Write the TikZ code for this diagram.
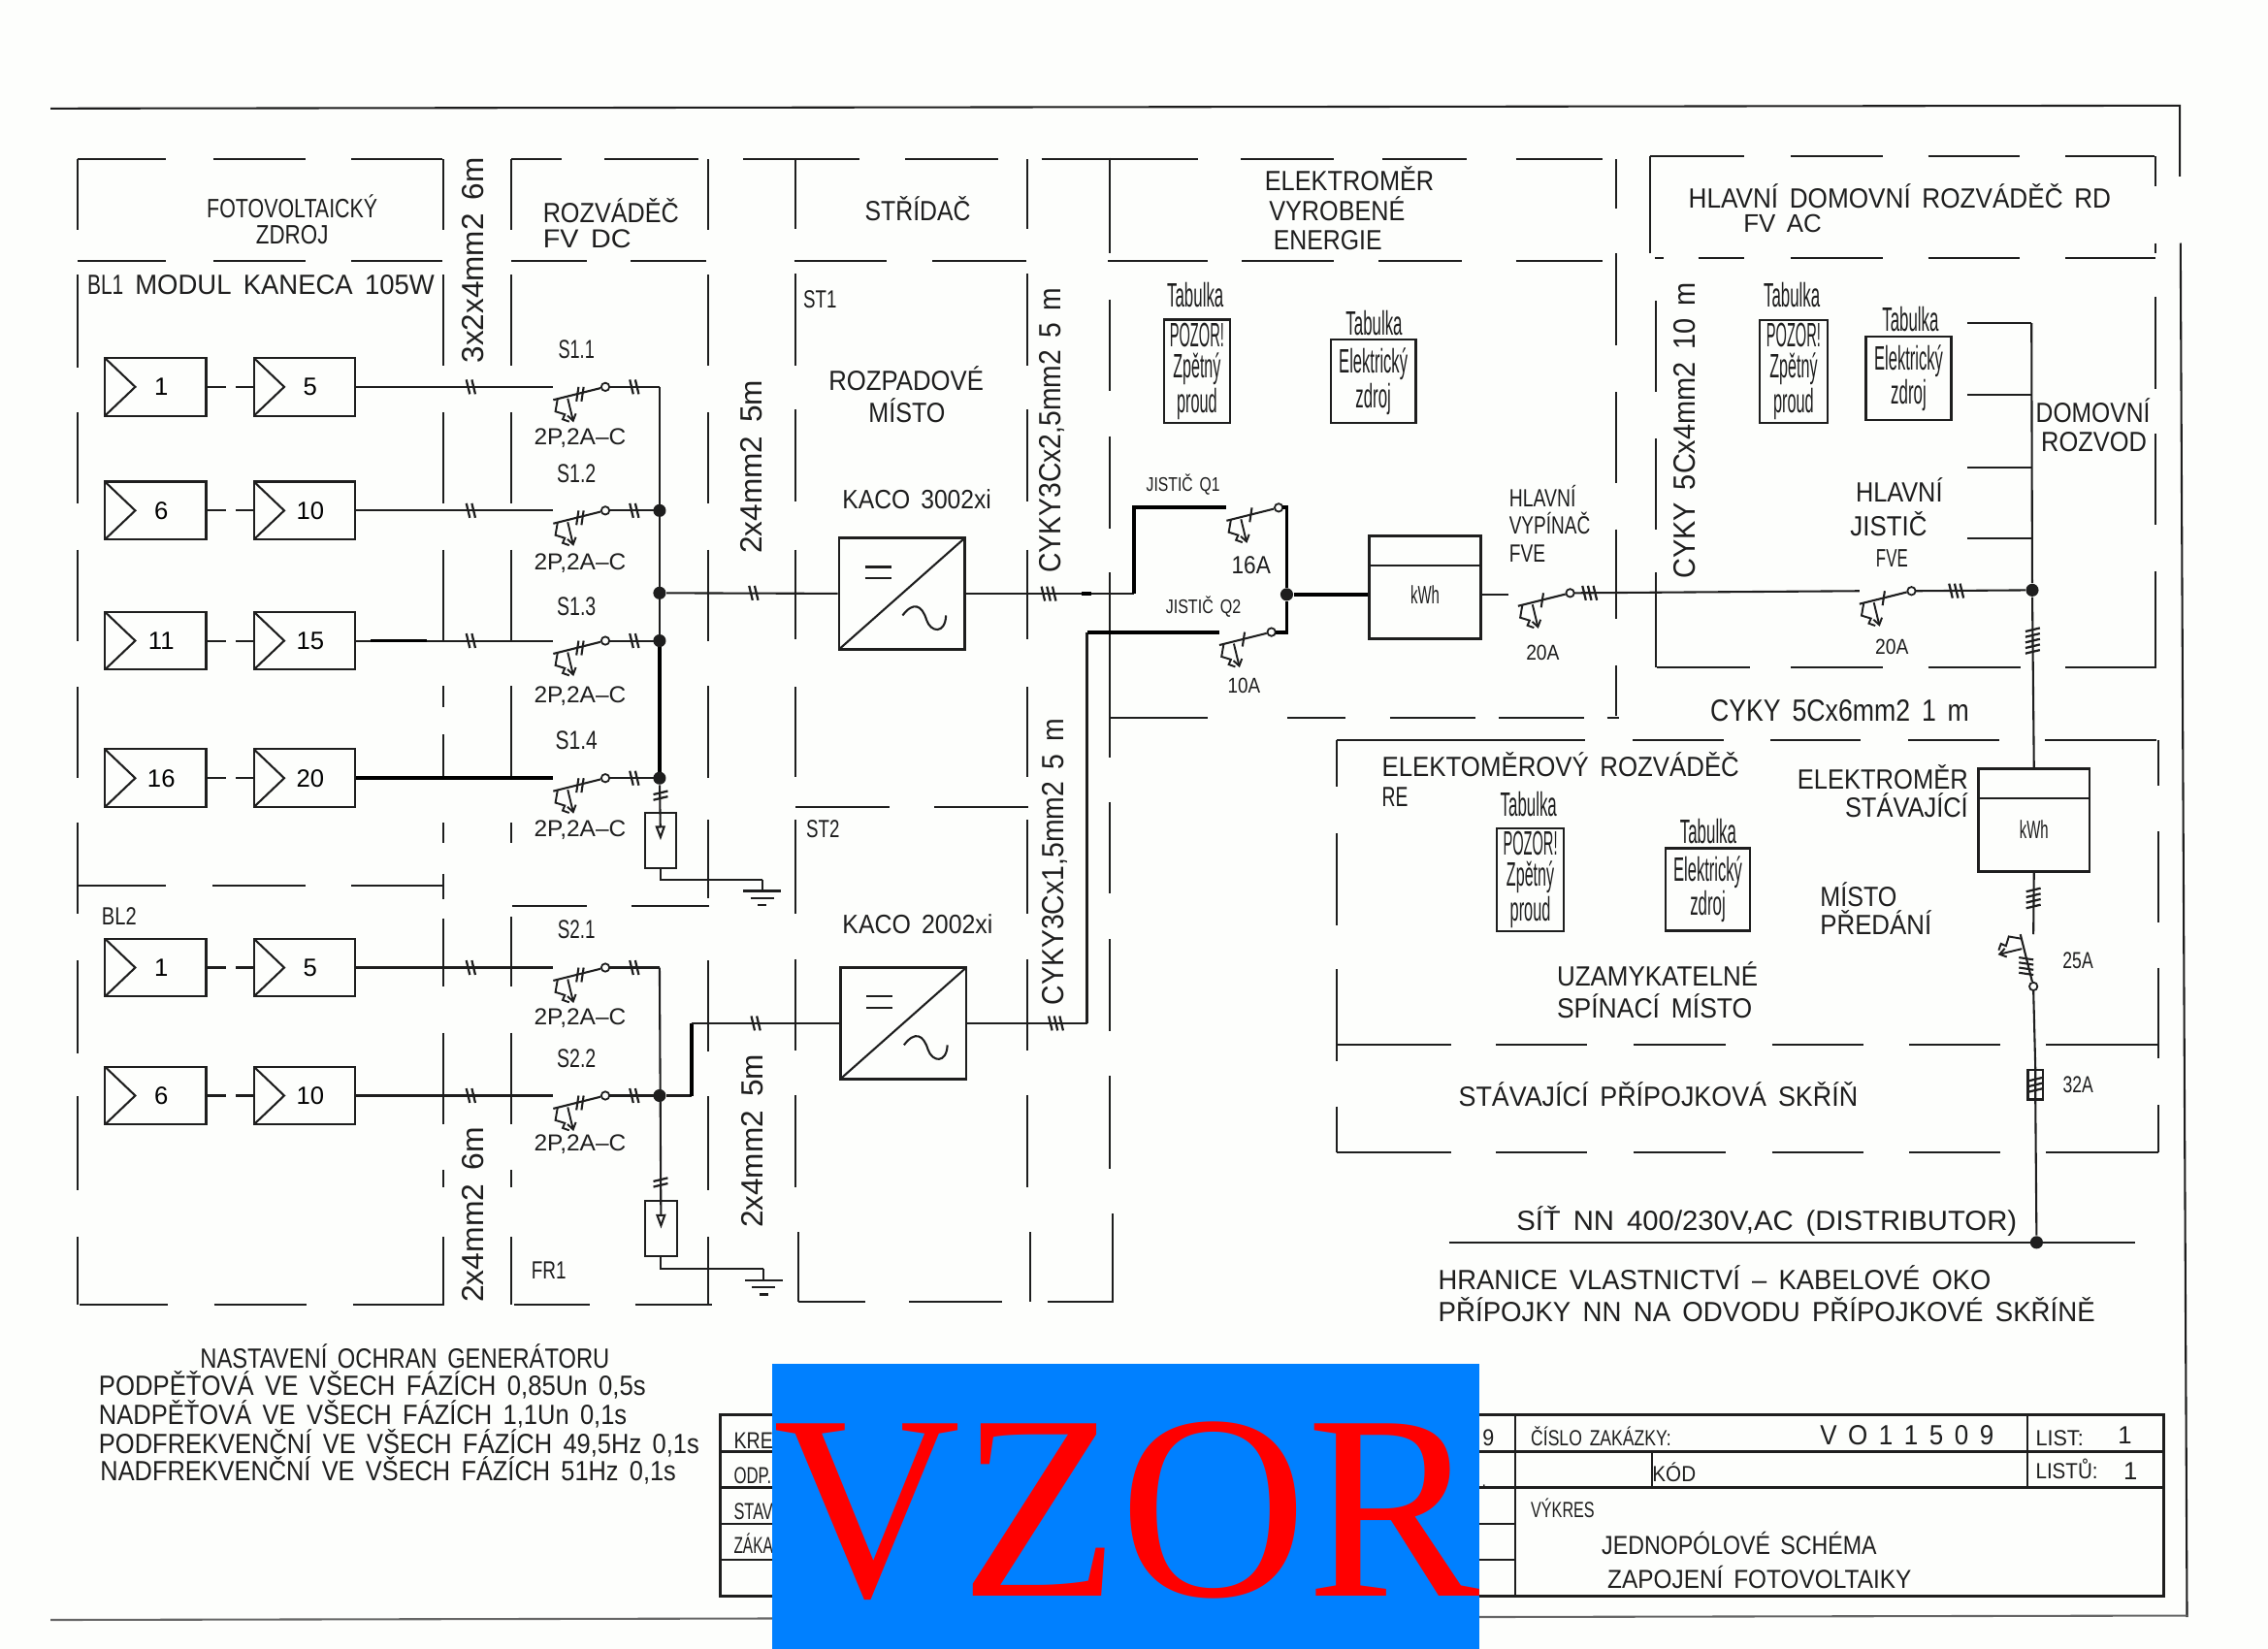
\documentclass[tikz,border=0pt]{standalone}
\usepackage{fontspec}
\usepackage{graphicx}
\usetikzlibrary{arrows.meta,calc}
\newfontfamily\cadfont[WordSpace=1.6]{Liberation Sans}
\newfontfamily\vzorfont{Liberation Serif}
\definecolor{kresba}{HTML}{1E1E1E}
\definecolor{papir}{HTML}{FDFEFC}
\definecolor{modra}{HTML}{0080FF}
\newcommand{\tx}[2]{\resizebox{\dimexpr#1pt/2\relax}{\height}{#2}}
\newcommand{\svisle}[2]{\foreach \a/\b in {#2}{\draw[ram] (#1,\a) -- (#1,\b);}}
\newcommand{\vodorovne}[2]{\foreach \a/\b in {#2}{\draw[ram] (\a,#1) -- (\b,#1);}}
\tikzset{
    wire/.style={draw=kresba,line width=.7pt},
    tlusty/.style={draw=black,line width=1.3pt},
    ram/.style={draw=kresba,line width=.7pt},
    spoj/.style={wire,dash pattern=on 6.5pt off 3.5pt},
    lab/.style={font=\cadfont\fontsize{#1}{#1}\selectfont,text=kresba,inner sep=0pt,text height={.716*#1pt},text depth=0pt},
    lab/.default=9.6,
    modul/.style={draw=kresba,line width=.7pt,minimum width=35pt,minimum height=20pt,inner sep=0pt,
        font=\cadfont\fontsize{8.6}{8.6}\selectfont,execute at begin node={\hspace{4pt}},
        path picture={\draw[wire] (path picture bounding box.north west)
            -- ([xshift=10.5pt]path picture bounding box.west) -- (path picture bounding box.south west);}},
    stridac/.style={draw=kresba,line width=.8pt,minimum width=43.5pt,minimum height=38.5pt,inner sep=0pt,
        path picture={
            \draw[wire] (path picture bounding box.south west) -- (path picture bounding box.north east);
            \begin{scope}[shift={(path picture bounding box.center)}]
                \draw[wire] (-25.5,-18.5) -- (-7.5,-18.5);
                \draw[wire] (-25.5,-11) -- (-7.5,-11);
                \draw[wire] (0.5,15) .. controls (8,5) and (14,8) .. (17,18) .. controls (20,27) and (30,28) .. (30.5,15);
            \end{scope}}},
    tabbox/.style={draw=kresba,line width=.7pt,inner sep=0pt,align=center,text=kresba,
        font=\cadfont\fontsize{11.7}{10.75}\selectfont},
    elektromer/.style={draw=kresba,line width=.8pt,minimum width=38.5pt,minimum height=35.5pt,inner sep=0pt,
        text=kresba,font=\cadfont\fontsize{8.7}{8.7}\selectfont,
        path picture={\draw[wire] ([yshift=-10.3pt]path picture bounding box.north west)
            -- ([yshift=-10.3pt]path picture bounding box.north east);}},
    svodic/.style={draw=kresba,line width=.7pt,fill=papir,minimum width=11pt,minimum height=19pt,inner sep=0pt},
    tecka/.style={circle,fill=kresba,inner sep=0pt,minimum size=4.4pt},
    kolecko/.style={circle,draw=kresba,line width=.6pt,fill=papir,inner sep=0pt,minimum size=2.8pt},
    pics/carky/.style={code={
        \foreach \i in {1,...,#1}{\draw[wire,line width=.75pt] ({(\i-(#1+1)/2)*3.8-1.2},-5) -- +(2.4,10);}
    }},
    pics/jistic/.style={code={
        \coordinate (-in) at (0,0);
        \coordinate (-out) at (38.7,0);
        \node[kolecko] (-k) at (36,0) {};
        \draw[wire] (0,9) -- (-k);
        \draw[wire,line width=.65pt] (3,8.3) -- (1.5,17) -- (8,19) -- (6.5,22.4) -- (11,24);
        \draw[wire,line width=.65pt,-{Straight Barb[length=2.2pt,width=3pt]}] (10,8) -- (14,24.5);
        \foreach \i in {1,...,#1}{\draw[wire,line width=.7pt] ({14+3.5*\i},0) -- +(-1.5,10);}
    }},
    pics/zem/.style={code={
        \draw[wire] (0,0) -- (0,7.5);
        \draw[wire] (-13,7.5) -- (13,7.5);
        \draw[wire] (-8,12.5) -- (8,12.5);
        \draw[wire] (-3,17.5) -- (3,17.5);
    }},
}
\begin{document}
\begin{tikzpicture}[x=.5pt,y=-.5pt]
    \useasboundingbox (0,0) rectangle (1568,1140);
    \fill[papir] (0,0) rectangle (1568,1140);
    % vykresovy ram
    \draw[ram] (35,75) -- (1507,73) -- (1507,122);
    \draw[ram] (1507.5,168) -- (1512,1118);
    \draw[ram,draw=black!60] (1512,1117) -- (35,1120);
    % panely FV zdroj a rozvadec DC
    \vodorovne{110}{53.5/115,147.5/211,243/306,353.5/388,418/483,514/594,626/690,720/828,858/922,956/1014,1048/1108}
    \vodorovne{180.5}{53.5/115,147.5/211,243/306,353.5/406,436/488.5,549/613,644.6/709.6,766/835,858.5/922,953/1011,1048/1108}
    \vodorovne{612}{54/115,147/211,243/306}
    \vodorovne{902}{55/116,148/212,244/307,355.5/408,439/492.5}
    \vodorovne{900}{551.7/598,628.6/693,724/770}
    \vodorovne{626.5}{354/406,436.5/490}
    \vodorovne{558}{550/615,646/711}
    \svisle{53.5}{110/159,190/254,285/348,380/443,475/538,569/632,664/728,758/823,855/902}
    \svisle{306.5}{110/159,190/253,285/348,380/443,474/489,508/538,569/583,604/622,635/682,714/777,809/821,855/902}
    \svisle{353.5}{110/159,190/253,285/348,380/443,474/538,569/583,634/682,714/777,809/821,855/902}
    \svisle{489.5}{110/159,190/253,285/348,380/443,474/538,567/621,664/727,758/823,855/902}
    \svisle{550}{110/158,189/253,283/347,380/442,475/537,567/632,663/726,757/821}
    \svisle{551.7}{852/900}
    \svisle{710}{110/158,189/253,283/347,380/442,475/537,567/632,663/726,757/821}
    \svisle{712}{852/900}
    % panel elektromer vyrobene energie
    \svisle{767}{109/175,207/270,301.5/365.6,396/523.6,554.4/618,649.5/713,744/808}
    \svisle{769.5}{839/900}
    \svisle{1117.5}{110/144,175/239,271/334,366/428,460/495}
    \vodorovne{496}{768/835,890/930,961/1020,1036/1095,1111/1119}
    % panel hlavni domovni rozvadec
    \vodorovne{108}{1140.6/1205.6,1238/1302,1333/1396.6,1428/1489.6}
    \vodorovne{178.5}{1144/1150,1174/1206,1238/1302,1333/1396,1428/1490}
    \vodorovne{461.6}{1145.5/1210,1238/1302,1333/1397,1428/1491}
    \svisle{1140.6}{108/175}
    \svisle{1144.5}{208/271,303/366,396/461.6}
    \svisle{1490}{108/129,168/175,205/268.6,300/363,394.7/461.6}
    % panel elektromerovy rozvadec a prípojkova skrin
    \vodorovne{512}{924/1096,1129/1192,1224/1286,1319/1382,1413.7/1491}
    \vodorovne{722.5}{924/1003,1034/1097,1129.4/1193,1225/1288,1320/1383,1414.6/1492}
    \vodorovne{796.8}{924/1003,1034/1097,1129.4/1193,1225/1288,1320/1383,1414.6/1492}
    \svisle{924}{512/544,576/639.5,670/733.7,765/797}
    \svisle{1492}{512/543,575/638,669/732,764/797}
    % vetve panelu
    \foreach \r/\p/\q/\s/\w/\y/\ys/\yd in {11/1/5/S1.1/25/267.5/241.5/302,12/6/10/S1.2/27/353/327/388,13/11/15/S1.3/27/443/419/480,
        14/16/20/S1.4/29/538/511.5/573,21/1/5/S2.1/26/669/642.5/703,22/6/10/S2.2/27/757.5/731.5/790}{
        \node[modul] (mL\r) at (107.5,\y) {\p};
        \node[modul] (mR\r) at (210.5,\y) {\q};
        \draw[spoj] (mL\r) -- (mR\r);
        \pic (s\r) at (382.5,\y) {jistic=2};
        \draw[wire] (mR\r) -- (s\r-in);
        \ifnum\r=14\else\pic at (325.5,\y) {carky=2};\fi
        \pic at (438.5,\y) {carky=2};
        \coordinate (b\r) at (456,\y);
        \draw[wire] (s\r-out) -- (b\r);
        \node[lab=9] (ts\r) at (398.5,\ys) {\tx{\w}{\s}};
        \node[lab=8] (td\r) at (401,\yd) {\tx{63.6}{2P,2A–C}};
    }
    \draw[tlusty] (mR14) -- (s14-in);
    \coordinate (h3a) at (256.5,443);
    \coordinate (h3b) at (295,443);
    \draw[tlusty] (h3a) -- (h3b);
    % pojeni pole BL1
    \coordinate (bst) at (456,410);
    \draw[wire] (b11) -- (b13);
    \draw[tlusty] (b13) -- (b14);
    \node[tecka] (d12) at (b12) {};
    \node[tecka] (dst) at (bst) {};
    \node[tecka] (d13) at (b13) {};
    \node[tecka] (d14) at (b14) {};
    \node[stridac] (st1) at (623.5,410.5) {};
    \draw[wire] (dst) -- (st1);
    \pic at (521,410) {carky=2};
    \node[svodic] (spd1) at (456.7,581) {};
    \draw[wire,-{Triangle[open,length=5pt,width=3.4pt]}] (d14) -- (spd1.center);
    \pic[rotate=90] at (456.7,550) {carky=2};
    \coordinate (g1) at (527,608.5);
    \draw[wire] (spd1.south) |- (g1);
    \pic at (g1) {zem};
    % pojeni pole BL2
    \node[tecka] (d22) at (b22) {};
    \node[stridac] (st2) at (624.5,707.5) {};
    \coordinate (k1) at (478,757.5);
    \coordinate (k2) at (478,707.5);
    \draw[wire] (d22) -- (k1);
    \draw[tlusty] (k1) -- (k2);
    \draw[wire] (k2) -- (st2);
    \pic at (522.5,707.5) {carky=2};
    \node[svodic] (spd2) at (457,849.5) {};
    \draw[wire,-{Triangle[open,length=5pt,width=3.4pt]}] (b21) -- (spd2.center);
    \pic[rotate=90] at (456.7,817.5) {carky=2};
    \coordinate (g2) at (528,877.5);
    \draw[wire] (spd2.south) |- (g2);
    \pic at (g2) {zem};
    % strana AC, jistice Q1 a Q2
    \coordinate (a1) at (783.7,410.5);
    \coordinate (a2) at (783.7,351);
    \draw[wire] (st1) -- (a1);
    \pic at (725,410.5) {carky=3};
    \coordinate (a5) at (748,410.5);
    \coordinate (a6) at (754.5,410.5);
    \draw[tlusty] (a5) -- (a6);
    \pic (q1) at (848,351) {jistic=1};
    \draw[tlusty] (a1) -- (a2) -- (q1-in);
    \coordinate (a3) at (751.5,707.5);
    \coordinate (a4) at (751.5,437);
    \draw[wire] (st2) -- (a3);
    \pic at (730,707.5) {carky=3};
    \pic (q2) at (843,437) {jistic=1};
    \draw[wire,line width=1pt] (a3) -- (a4);
    \draw[tlusty] (a4) -- (q2-in);
    \coordinate (qb) at (889.6,411);
    \node[tecka] (dq) at (qb) {};
    \draw[tlusty] (q1-out) -| (dq);
    \draw[tlusty] (q2-out) -| (dq);
    \node[elektromer] (em1) at (985.2,406) {\raisebox{-5.75pt}[6pt][6pt]{\tx{20}{kWh}}};
    \draw[tlusty] (dq) -- (dq -| em1.west);
    % hlavni vypinac a hlavni jistic
    \coordinate (v1) at (1043,411);
    \draw[wire] (v1 -| em1.east) -- (v1);
    \pic (vyp) at (1049.5,410) {jistic=1};
    \pic at (1099,410) {carky=3};
    \pic (hj) at (1285.5,408.6) {jistic=1};
    \draw[wire] (vyp-out) -- (hj-in);
    \node[tecka] (dd) at (1405,408) {};
    \draw[wire] (hj-out) -- (dd);
    \pic at (1352.5,408.5) {carky=3};
    % domovni rozvod a pripojka
    \coordinate (dtop) at (1404.5,223.4);
    \draw[wire] (dtop) -- (dd);
    \foreach \i/\y in {a/223.4,b/273,c/323.3,d/372}{
        \coordinate (ro\i) at (1360,\y);
        \draw[wire] (ro\i) -- (1404.5,\y);
    }
    \node[elektromer] (em2) at (1406.2,567) {\raisebox{-6.25pt}[6pt][6pt]{\tx{20}{kWh}}};
    \draw[wire] (dd) -- (em2.north);
    \pic[rotate=90] at (1405.3,443) {carky=5};
    \pic (j25) [rotate=-90] at (1405.8,646) {jistic=4};
    \draw[wire] (em2.south) -- (j25-in);
    \pic[rotate=90] at (1405.8,621) {carky=4};
    \node[draw=kresba,line width=.7pt,minimum width=5.2pt,minimum height=10.2pt,inner sep=0pt] (f32) at (1407.2,750) {};
    \draw[wire] (j25-out) -- (f32.north) -- (f32.south);
    \pic[rotate=90] at (1407.2,750) {carky=3};
    \node[tecka] (dsit) at (1408,859) {};
    \draw[wire] (f32.south) -- (dsit);
    \coordinate (sa) at (1001.7,859);
    \coordinate (sb) at (1476,859);
    \draw[wire,line width=.9pt] (sa) -- (sb);
    % tabulky
    \node[lab=11.7] (tb1) at (826.4,204) {\tx{39}{Tabulka}};
    \node[lab=11.7] (tb2) at (950,223) {\tx{39}{Tabulka}};
    \node[lab=11.7] (tb3) at (1238.8,204) {\tx{39}{Tabulka}};
    \node[lab=11.7] (tb4) at (1320.8,220.8) {\tx{39}{Tabulka}};
    \node[lab=11.7] (tb5) at (1056.8,556) {\tx{39}{Tabulka}};
    \node[lab=11.7] (tb6) at (1181,574.5) {\tx{39}{Tabulka}};
    \node[tabbox,minimum width=23pt,minimum height=35.7pt] (poz1) at (827.5,256.7) {\tx{37.6}{POZOR!}\\\tx{33}{Zpětný}\\\tx{28}{proud}};
    \node[tabbox,minimum width=23.4pt,minimum height=35.5pt] (poz2) at (1240,256.9) {\tx{37.6}{POZOR!}\\\tx{33}{Zpětný}\\\tx{28}{proud}};
    \node[tabbox,minimum width=23pt,minimum height=35.5pt] (poz3) at (1058,608.2) {\tx{37.6}{POZOR!}\\\tx{33}{Zpětný}\\\tx{28}{proud}};
    \node[tabbox,minimum width=29.4pt,minimum height=28.7pt] (ele1) at (949.4,263.7) {\tx{47.5}{Elektrický}\\\tx{24.5}{zdroj}};
    \node[tabbox,minimum width=29.5pt,minimum height=28.8pt] (ele2) at (1319.5,261.5) {\tx{47.5}{Elektrický}\\\tx{24.5}{zdroj}};
    \node[tabbox,minimum width=29.3pt,minimum height=28.5pt] (ele3) at (1180.7,615) {\tx{47.5}{Elektrický}\\\tx{24.5}{zdroj}};
    % popisy panelu
    \node[lab=9.2] (tFv) at (202,144) {\tx{118}{FOTOVOLTAICKÝ}};
    \node[lab=9.2] (tZd) at (202,162) {\tx{50}{ZDROJ}};
    \node[lab,anchor=west] (tRo) at (375,147) {\tx{94}{ROZVÁDĚČ}};
    \node[lab=9,anchor=west] (tFd) at (375,165) {\tx{61}{FV DC}};
    \node[lab] (tSt) at (634.5,146) {\tx{73}{STŘÍDAČ}};
    \node[lab,anchor=west] (tEl) at (874,125) {\tx{117}{ELEKTROMĚR}};
    \node[lab,anchor=west] (tVy) at (877,146) {\tx{94}{VYROBENÉ}};
    \node[lab,anchor=west] (tEn) at (880,166) {\tx{75}{ENERGIE}};
    \node[lab,anchor=west] (tHd) at (1167,137) {\tx{292}{HLAVNÍ DOMOVNÍ ROZVÁDĚČ RD}};
    \node[lab=8.8,anchor=west] (tFa) at (1205,154) {\tx{54}{FV AC}};
    \node[lab,anchor=west] (tB1) at (60,197) {\tx{25}{BL1}};
    \node[lab,anchor=west] (tMo) at (93,197) {\tx{207}{MODUL KANECA 105W}};
    \node[lab=8.6,anchor=west] (tB2) at (70,633) {\tx{24}{BL2}};
    \node[lab=8.6,anchor=west] (tFr) at (367,878) {\tx{24}{FR1}};
    \node[lab=8.6,anchor=west] (tS1) at (555,207) {\tx{23}{ST1}};
    \node[lab=8.6,anchor=west] (tS2) at (557,573) {\tx{23}{ST2}};
    \node[lab] (tRm) at (626.5,263) {\tx{107}{ROZPADOVÉ}};
    \node[lab] (tMi) at (627,285) {\tx{53}{MÍSTO}};
    \node[lab=9.2,anchor=west] (tK1) at (582,345) {\tx{103}{KACO 3002xi}};
    \node[lab=9.2,anchor=west] (tK2) at (582,639) {\tx{104}{KACO 2002xi}};
    % kabely
    \node[lab=10.6,rotate=90] (tC1) at (327,180) {\tx{142}{3x2x4mm2 6m}};
    \node[lab=10.6,rotate=90] (tC2) at (519,322.7) {\tx{120}{2x4mm2 5m}};
    \node[lab=10.6,rotate=90] (tC3) at (327,840) {\tx{121}{2x4mm2 6m}};
    \node[lab=10.6,rotate=90] (tC4) at (520,789) {\tx{120}{2x4mm2 5m}};
    \node[lab=10.6,rotate=90] (tC5) at (726,297.5) {\tx{197}{CYKY3Cx2,5mm2 5 m}};
    \node[lab=10.6,rotate=90] (tC6) at (727.6,596) {\tx{198}{CYKY3Cx1,5mm2 5 m}};
    \node[lab=10.6,rotate=90] (tC7) at (1164.6,297.7) {\tx{205}{CYKY 5Cx4mm2 10 m}};
    \node[lab=10.6,anchor=west] (tC8) at (1182,491) {\tx{179}{CYKY 5Cx6mm2 1 m}};
    % jistice
    \node[lab=6.8] (tQ1) at (818,335) {\tx{51}{JISTIČ Q1}};
    \node[lab=6.8] (tQ2) at (832,419) {\tx{52}{JISTIČ Q2}};
    \node[lab=8.6] (t16) at (865,390.5) {\tx{27}{16A}};
    \node[lab=7.4] (t10) at (860,474) {\tx{22.5}{10A}};
    \node[lab=8.6,anchor=west] (tHv) at (1043,344.3) {\tx{46}{HLAVNÍ}};
    \node[lab=8.6,anchor=west] (tVp) at (1043,363.3) {\tx{56}{VYPÍNAČ}};
    \node[lab=8.6,anchor=west] (tFv1) at (1043,382.8) {\tx{25}{FVE}};
    \node[lab=7.4] (t20a) at (1066.6,451) {\tx{23}{20A}};
    \node[lab=7.4] (t20b) at (1308,447) {\tx{23}{20A}};
    \node[lab] (tHj) at (1313,340.4) {\tx{60}{HLAVNÍ}};
    \node[lab] (tJi) at (1305.7,363.6) {\tx{53}{JISTIČ}};
    \node[lab=8.7] (tFv2) at (1308,386) {\tx{22}{FVE}};
    \node[lab] (tDo) at (1447,285.3) {\tx{79}{DOMOVNÍ}};
    \node[lab] (tRz) at (1447.7,305.6) {\tx{73}{ROZVOD}};
    \node[lab,anchor=west] (tEm) at (955,530) {\tx{247}{ELEKTOMĚROVÝ ROZVÁDĚČ}};
    \node[lab,anchor=west] (tRe) at (955,551) {\tx{18}{RE}};
    \node[lab,anchor=east] (tEs) at (1361,539) {\tx{118}{ELEKTROMĚR}};
    \node[lab,anchor=east] (tSv) at (1361,558) {\tx{85}{STÁVAJÍCÍ}};
    \node[lab,anchor=west] (tMp) at (1258,620) {\tx{53}{MÍSTO}};
    \node[lab,anchor=west] (tPr) at (1258,639) {\tx{77}{PŘEDÁNÍ}};
    \node[lab,anchor=west] (tUz) at (1076,675) {\tx{139}{UZAMYKATELNÉ}};
    \node[lab,anchor=west] (tSp) at (1076,697) {\tx{135}{SPÍNACÍ MÍSTO}};
    \node[lab,anchor=west] (tSk) at (1008,758) {\tx{276}{STÁVAJÍCÍ PŘÍPOJKOVÁ SKŘÍŇ}};
    \node[lab=8] (t25) at (1436.6,664) {\tx{21}{25A}};
    \node[lab=8] (t32) at (1436.7,750) {\tx{21}{32A}};
    \node[lab,anchor=west] (tSi) at (1048,844) {\tx{346}{SÍŤ NN 400/230V,AC (DISTRIBUTOR)}};
    \node[lab,anchor=west] (tHr) at (994,885) {\tx{382}{HRANICE VLASTNICTVÍ – KABELOVÉ OKO}};
    \node[lab,anchor=west] (tPj) at (994,907) {\tx{454}{PŘÍPOJKY NN NA ODVODU PŘÍPOJKOVÉ SKŘÍNĚ}};
    % nastaveni ochran
    \node[lab,anchor=west] (tN0) at (138,939) {\tx{283}{NASTAVENÍ OCHRAN GENERÁTORU}};
    \node[lab,anchor=west] (tN1) at (68,958) {\tx{378}{PODPĚŤOVÁ VE VŠECH FÁZÍCH 0,85Un 0,5s}};
    \node[lab,anchor=west] (tN2) at (68,978) {\tx{365}{NADPĚŤOVÁ VE VŠECH FÁZÍCH 1,1Un 0,1s}};
    \node[lab,anchor=west] (tN3) at (68,998) {\tx{415}{PODFREKVENČNÍ VE VŠECH FÁZÍCH 49,5Hz 0,1s}};
    \node[lab,anchor=west] (tN4) at (69,1017) {\tx{398}{NADFREKVENČNÍ VE VŠECH FÁZÍCH 51Hz 0,1s}};
    % popisove pole
    \draw[wire,line width=.9pt] (498,978) rectangle (1496,1103.7);
    \draw[wire,line width=.9pt] (498,1003.4) -- (1496,1003.4);
    \draw[wire,line width=.9pt] (498,1028.4) -- (1496,1028.4);
    \draw[wire] (498,1053.6) -- (1047.6,1053.6);
    \draw[wire] (498,1078.7) -- (1047.6,1078.7);
    \draw[wire] (1047.6,978) -- (1047.6,1103.7);
    \draw[wire] (1142.3,1003.4) -- (1142.3,1028.4);
    \draw[wire] (1401.6,978) -- (1401.6,1028.4);
    \node[lab=8,anchor=west] (tKr) at (507,996) {\tx{27}{KRE}};
    \node[lab=8,anchor=west] (tOd) at (507,1020) {\tx{26}{ODP.}};
    \node[lab=8,anchor=west] (tSa) at (507,1045) {\tx{27}{STAV}};
    \node[lab=8,anchor=west] (tZa) at (507,1068) {\tx{27}{ZÁKA}};
    \node[lab=8] (t9) at (1029,994) {\tx{8}{9}};
    \node[lab=8] (tTe) at (1026,1023) {\tx{3}{.}};
    \node[lab=7.6,anchor=west] (tCz) at (1058,994) {\tx{97}{ČÍSLO ZAKÁZKY:}};
    \node[lab=9.6,anchor=west] (tVo) at (1258,992) {\tx{120}{V O 1 1 5 0 9}};
    \node[lab=7.6,anchor=west] (tLi) at (1407,994) {\tx{33}{LIST:}};
    \node[lab=8.6] (tL1) at (1469,992) {1};
    \node[lab=7.6,anchor=west] (tKo) at (1142,1019) {\tx{30}{KÓD}};
    \node[lab=7.6,anchor=west] (tLu) at (1407,1017) {\tx{43}{LISTŮ:}};
    \node[lab=8.6] (tL2) at (1473,1017) {1};
    \node[lab=7.6,anchor=west] (tVk) at (1058,1044) {\tx{44}{VÝKRES}};
    \node[lab=9,anchor=west] (tJe) at (1107,1068) {\tx{190}{JEDNOPÓLOVÉ SCHÉMA}};
    \node[lab=9,anchor=west] (tZp) at (1111,1092) {\tx{210}{ZAPOJENÍ FOTOVOLTAIKY}};
    % razitko VZOR
    \node[fill=modra,inner sep=0pt,minimum width=244.5pt,minimum height=98.5pt] (vzorpole) at (778.5,1041.5) {};
    \node[font=\vzorfont\fontsize{91}{91}\selectfont,text=red,inner sep=0pt,text height=59.7pt,text depth=0pt] (vzor) at (779,1044) {\resizebox{244pt}{\height}{VZOR}};
\end{tikzpicture}
\end{document}
